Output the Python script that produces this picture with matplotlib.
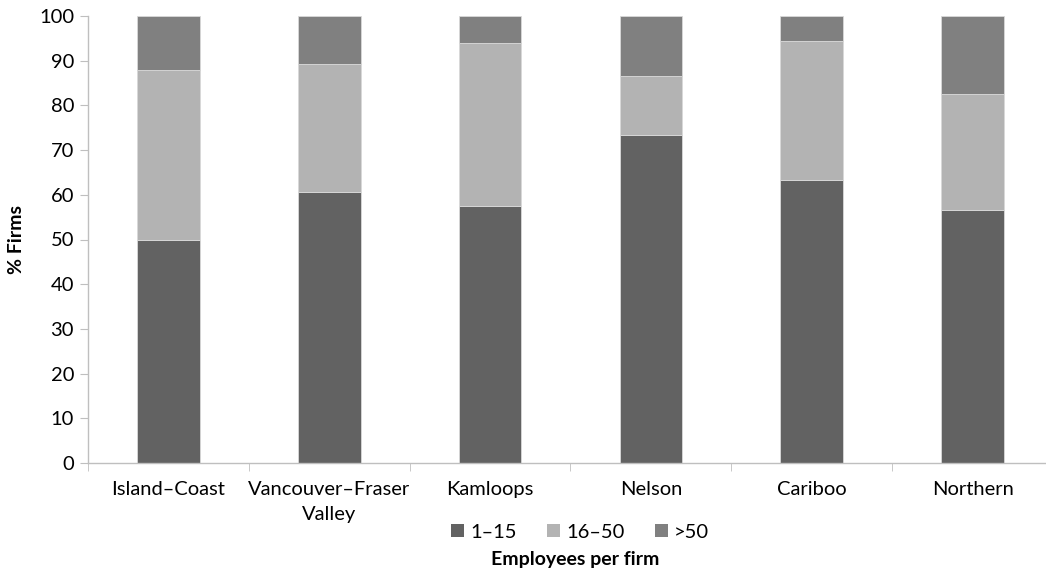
import numpy as np
import matplotlib
matplotlib.use("Agg")
import matplotlib.pyplot as plt
from matplotlib.patches import Patch

plt.rcParams["font.family"] = ["Lato", "DejaVu Sans"]

regions = ["Island\u2013Coast", "Vancouver\u2013Fraser\nValley", "Kamloops", "Nelson", "Cariboo", "Northern"]
small = [50.0, 60.7, 57.6, 73.3, 63.3, 56.5]     # 1-15 employees
medium = [38.0, 28.6, 36.4, 13.3, 31.0, 26.1]    # 16-50 employees
large = [12.0, 10.7, 6.0, 13.4, 5.7, 17.4]       # >50 employees
series_labels = ["1\u201315", "16\u201350", ">50"]
colors = ["#626262", "#b3b3b3", "#808080"]

fig = plt.figure(figsize=(10.46, 5.71), dpi=100)
ax = fig.add_axes([88 / 1046, 1 - 463 / 571, 965 / 1046, 447 / 571])

x = np.arange(len(regions))
bottom = np.zeros(len(regions))
for vals, color in zip([small, medium, large], colors):
    ax.bar(x, vals, width=0.39, bottom=bottom, color=color,
           edgecolor="#d9d9d9", linewidth=0.6)
    bottom += np.array(vals)

ax.set_xlim(-0.5, len(regions) - 0.5)
ax.set_ylim(0, 100)
ax.set_yticks(np.arange(0, 101, 10))

ax.set_xticks(x)
ax.set_xticklabels(regions, fontsize=14.5, linespacing=1.55)
ax.tick_params(axis="x", which="major", length=0, pad=13)
ax.set_xticks(np.arange(-0.5, len(regions)), minor=True)
ax.tick_params(axis="x", which="minor", length=6, color="#bfbfbf", direction="out")
ax.tick_params(axis="y", length=6, color="#bfbfbf", labelsize=14.5, pad=4)

for side in ["top", "right"]:
    ax.spines[side].set_visible(False)
for side in ["left", "bottom"]:
    ax.spines[side].set_color("#bfbfbf")
    ax.spines[side].set_linewidth(1)

ax.set_ylabel("% Firms", fontsize=14, fontweight="bold", labelpad=10)

handles = [Patch(facecolor=c, edgecolor="none") for c in colors]
fig.legend(handles, series_labels, loc="center", bbox_to_anchor=(580 / 1046, 1 - 532 / 571),
           ncol=3, frameon=False, fontsize=14.5, handlelength=0.65, handleheight=0.65,
           handletextpad=0.3, columnspacing=1.5)
fig.text(575 / 1046, 1 - 559 / 571, "Employees per firm", ha="center", va="center",
         fontsize=14, fontweight="bold")

fig.savefig("out.png", dpi=100)
